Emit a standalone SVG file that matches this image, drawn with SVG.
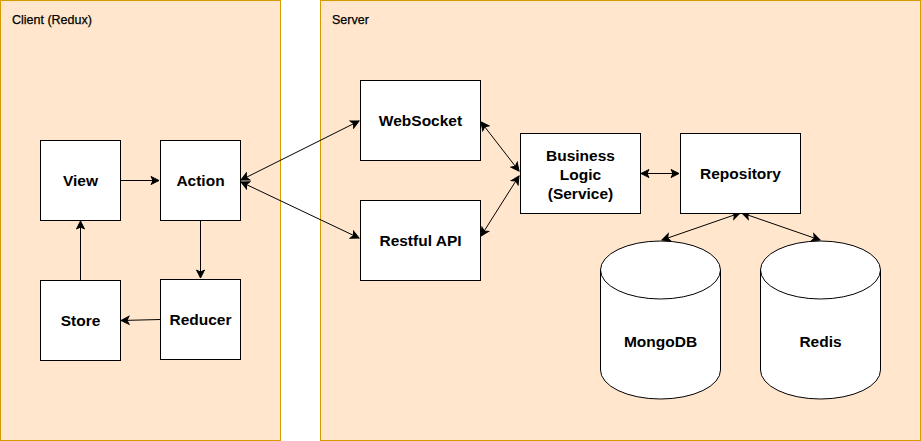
<svg xmlns="http://www.w3.org/2000/svg" width="921" height="441" viewBox="0 0 921 441">
<defs>
<style>
.cont{fill:#ffe6cc;stroke:#d79b00;stroke-width:1}
.box{fill:#ffffff;stroke:#000000;stroke-width:1}
.lbl{font-family:"Liberation Sans",Arial,sans-serif;font-size:12.5px;fill:#000;stroke:#000;stroke-width:0.25}
.t{font-family:"Liberation Sans",Arial,sans-serif;font-size:15.5px;font-weight:bold;fill:#000;text-anchor:middle}
.e{fill:none;stroke:#000;stroke-width:1}
</style>
<marker id="ah" viewBox="0 0 10 10" refX="9" refY="5" markerWidth="10" markerHeight="10" markerUnits="userSpaceOnUse" orient="auto-start-reverse">
<path d="M1,1 L9,5 L1,9 L3,5 Z" fill="#000" stroke="#000" stroke-width="1"/>
</marker>
</defs>
<g id="client">
<rect class="cont" x="0.5" y="0.5" width="280" height="440"/>
<text class="lbl" x="12" y="24">Client (Redux)</text>
</g>
<g id="server">
<rect class="cont" x="320.5" y="0.5" width="600" height="440"/>
<text class="lbl" x="332" y="24">Server</text>
</g>
<g id="connectors">
<line class="e" x1="120" y1="180.5" x2="159" y2="180.5" marker-end="url(#ah)"/>
<line class="e" x1="200.5" y1="220" x2="200.5" y2="278" marker-end="url(#ah)"/>
<line class="e" x1="160" y1="319.5" x2="121" y2="320.5" marker-end="url(#ah)"/>
<line class="e" x1="80.5" y1="280" x2="80.5" y2="221" marker-end="url(#ah)"/>
<line class="e" x1="241" y1="180" x2="359" y2="121" marker-start="url(#ah)" marker-end="url(#ah)"/>
<line class="e" x1="241" y1="182" x2="359" y2="238" marker-start="url(#ah)" marker-end="url(#ah)"/>
<line class="e" x1="481" y1="122" x2="519" y2="171" marker-start="url(#ah)" marker-end="url(#ah)"/>
<line class="e" x1="481" y1="236" x2="519" y2="176" marker-start="url(#ah)" marker-end="url(#ah)"/>
<line class="e" x1="641" y1="173.5" x2="679" y2="173.5" marker-start="url(#ah)" marker-end="url(#ah)"/>
<line class="e" x1="740" y1="213" x2="662" y2="240" marker-start="url(#ah)" marker-end="url(#ah)"/>
<line class="e" x1="742" y1="213" x2="820" y2="240" marker-start="url(#ah)" marker-end="url(#ah)"/>
</g>
<g id="view"><rect class="box" x="40.5" y="140.5" width="80" height="80"/><text class="t" x="80.5" y="186">View</text></g>
<g id="action"><rect class="box" x="160.5" y="140.5" width="80" height="80"/><text class="t" x="200.5" y="186">Action</text></g>
<g id="store"><rect class="box" x="40.5" y="280.5" width="80" height="80"/><text class="t" x="80.5" y="326">Store</text></g>
<g id="reducer"><rect class="box" x="160.5" y="279.5" width="80" height="80"/><text class="t" x="200.5" y="325">Reducer</text></g>
<g id="websocket"><rect class="box" x="360.5" y="80.5" width="120" height="80"/><text class="t" x="420.5" y="126">WebSocket</text></g>
<g id="restful"><rect class="box" x="360.5" y="200.5" width="120" height="80"/><text class="t" x="420.5" y="246">Restful API</text></g>
<g id="business"><rect class="box" x="520.5" y="133.5" width="120" height="80"/><text class="t" x="580.5" y="161">Business</text><text class="t" x="580.5" y="180">Logic</text><text class="t" x="580.5" y="199">(Service)</text></g>
<g id="repository"><rect class="box" x="680.5" y="133.5" width="120" height="80"/><text class="t" x="740.5" y="179">Repository</text></g>
<g id="mongodb">
<path class="box" d="M600.5,270 A60,29 0 0 1 720.5,270 L720.5,370 A60,29 0 0 1 600.5,370 Z"/>
<path class="e" d="M600.5,270 A60,29 0 0 0 720.5,270"/>
<text class="t" x="660.5" y="347">MongoDB</text>
</g>
<g id="redis">
<path class="box" d="M760.5,270 A60,29 0 0 1 880.5,270 L880.5,370 A60,29 0 0 1 760.5,370 Z"/>
<path class="e" d="M760.5,270 A60,29 0 0 0 880.5,270"/>
<text class="t" x="820.5" y="347">Redis</text>
</g>
</svg>
